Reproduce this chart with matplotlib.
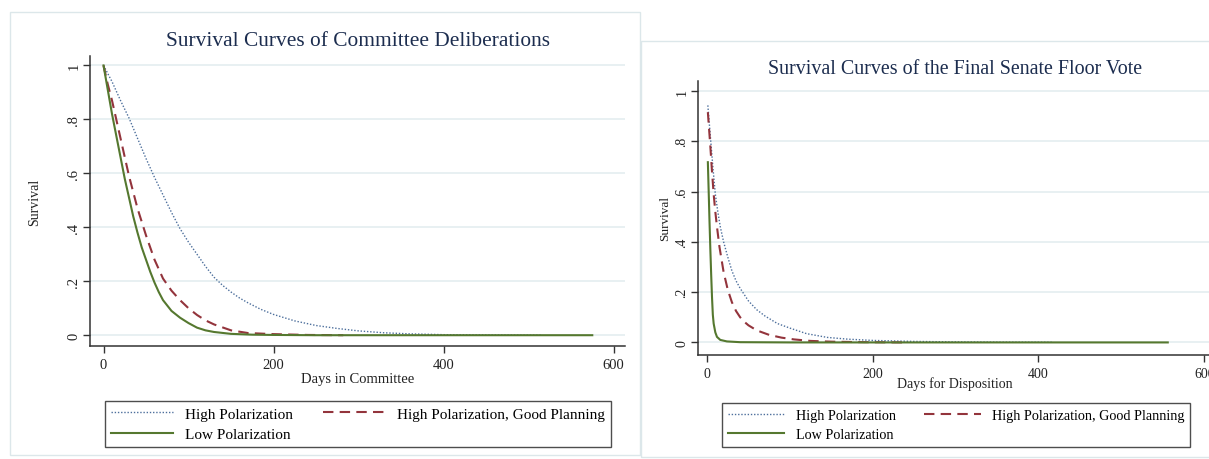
import matplotlib
matplotlib.use("Agg")
import matplotlib.pyplot as plt
from matplotlib.patches import Rectangle
from matplotlib.lines import Line2D

plt.rcParams['font.family'] = ['Liberation Serif', 'DejaVu Serif']

# Committee deliberations (left panel)
c_high_days = [0, 10, 20, 30, 40, 50, 60, 70, 80, 90, 100, 110, 120, 130, 140, 150, 160, 170,
               185, 200, 225, 250, 275, 300, 330, 360, 400, 450, 515]
c_high_surv = [1.0, 0.94, 0.87, 0.805, 0.73, 0.655, 0.585, 0.52, 0.455, 0.395, 0.345, 0.30,
               0.255, 0.215, 0.185, 0.16, 0.138, 0.12, 0.096, 0.077, 0.053, 0.036, 0.025,
               0.016, 0.009, 0.005, 0.002, 0.001, 0.0]
c_plan_days = [0, 5, 10, 15, 20, 25, 30, 40, 50, 60, 70, 80, 90, 100, 110, 120, 130, 150,
               170, 200, 240, 282]
c_plan_surv = [1.0, 0.93, 0.87, 0.80, 0.73, 0.66, 0.59, 0.47, 0.37, 0.28, 0.21, 0.165,
               0.13, 0.10, 0.075, 0.055, 0.04, 0.018, 0.008, 0.004, 0.001, 0.0]
c_low_days = [0, 5, 10, 15, 20, 25, 30, 35, 40, 45, 50, 55, 60, 65, 70, 80, 90, 100, 110,
              120, 130, 150, 175, 200, 250, 300, 400, 500, 575]
c_low_surv = [1.0, 0.91, 0.82, 0.74, 0.66, 0.58, 0.51, 0.44, 0.38, 0.325, 0.28, 0.235,
              0.195, 0.16, 0.13, 0.09, 0.065, 0.045, 0.028, 0.018, 0.012, 0.005, 0.002,
              0.001, 0.0, 0.0, 0.0, 0.0, 0.0]

# Final senate floor vote (right panel)
f_high_days = [1, 3, 5, 7, 10, 13, 16, 20, 25, 30, 35, 40, 45, 50, 60, 70, 85, 100, 120,
               145, 170, 200, 250, 300, 350, 416]
f_high_surv = [0.943, 0.86, 0.78, 0.70, 0.59, 0.52, 0.46, 0.40, 0.34, 0.285, 0.245, 0.215,
               0.19, 0.165, 0.13, 0.105, 0.075, 0.057, 0.035, 0.02, 0.013, 0.008, 0.004,
               0.002, 0.001, 0.0005]
f_plan_days = [1, 2, 4, 6, 8, 10, 12, 15, 20, 25, 30, 35, 40, 45, 50, 60, 75, 90, 105, 125,
               150, 190, 240]
f_plan_surv = [0.916, 0.87, 0.78, 0.68, 0.59, 0.52, 0.46, 0.38, 0.28, 0.21, 0.16, 0.125,
               0.10, 0.082, 0.068, 0.048, 0.03, 0.019, 0.012, 0.006, 0.003, 0.001, 0.0]
f_low_days = [1, 2, 3, 4, 5, 6, 7, 8, 10, 12, 16, 24, 40, 100, 556]
f_low_surv = [0.717, 0.60, 0.48, 0.37, 0.27, 0.18, 0.11, 0.075, 0.04, 0.022, 0.01, 0.004,
              0.001, 0.0, 0.0]

yticks = [0, 0.2, 0.4, 0.6, 0.8, 1]
ytick_labels = ['0', '.2', '.4', '.6', '.8', '1']
xticks = [0, 200, 400, 600]

labels = ['High Polarization', 'High Polarization, Good Planning', 'Low Polarization']
blue = '#4d6f9c'
red = '#93343c'
green = '#55782f'
grid_col = '#e4eef0'
title_col = '#1c2d4f'

W, H = 1209, 460
fig = plt.figure(figsize=(W / 100, H / 100), dpi=100)


def px(x0, y_top, x1, y_bot):
    return [x0 / W, 1 - y_bot / H, (x1 - x0) / W, (y_bot - y_top) / H]


# light frames around each graph
fig.patches.append(Rectangle((10 / W, 1 - 456 / H), 630 / W, 443 / H, transform=fig.transFigure,
                             fill=False, edgecolor='#dce7ea', lw=1))
fig.patches.append(Rectangle((641 / W, 1 - 458 / H), 580 / W, 416 / H, transform=fig.transFigure,
                             fill=False, edgecolor='#dce7ea', lw=1))


def panel(rect, xlim, ylim, high, plan, low, title, title_xy, title_size, xlabel, xlabel_y,
          ylabel_x, leg_xy, fs, leg_fs):
    ax = fig.add_axes(rect)
    ax.set_xlim(*xlim)
    ax.set_ylim(*ylim)
    for y in yticks:
        ax.axhline(y, color=grid_col, lw=1.2, zorder=0)
    ax.plot(high[0], high[1], color=blue, lw=1.0, linestyle=(0, (1, 1.3)))
    ax.plot(plan[0], plan[1], color=red, lw=1.5, linestyle=(0, (5, 3)))
    ax.plot(low[0], low[1], color=green, lw=1.5)
    ax.set_xticks(xticks)
    ax.set_yticks(yticks)
    ax.set_yticklabels(ytick_labels, rotation=90, va='center')
    ax.tick_params(direction='out', length=5, width=1, colors='#333333', labelsize=fs,
                   labelcolor='#222222', pad=4)
    ax.tick_params(axis='y', pad=2)
    for s in ['top', 'right']:
        ax.spines[s].set_visible(False)
    for s in ['left', 'bottom']:
        ax.spines[s].set_color('#333333')
        ax.spines[s].set_linewidth(1.1)
    fig.text(title_xy[0] / W, 1 - title_xy[1] / H, title, ha='center', va='center',
             fontsize=title_size, color=title_col)
    fig.text(title_xy[0] / W, 1 - xlabel_y / H, xlabel, ha='center', va='center',
             fontsize=fs, color='#222222')
    yl_y = (rect[1] + rect[3] / 2)
    fig.text(ylabel_x / W, yl_y, 'Survival', rotation=90, ha='center', va='center',
             fontsize=fs - 0.5, color='#222222')
    handles = [Line2D([], [], color=blue, lw=1.0, linestyle=(0, (1, 1.3))),
               Line2D([], [], color=green, lw=1.5),
               Line2D([], [], color=red, lw=1.5, linestyle=(0, (5, 3)))]
    leg = fig.legend(handles, [labels[0], labels[2], labels[1]], ncol=2, loc='center',
                     bbox_to_anchor=(leg_xy[0] / W, 1 - leg_xy[1] / H), fontsize=leg_fs,
                     frameon=True, fancybox=False, handlelength=4.0, handletextpad=0.8,
                     columnspacing=2.0, labelspacing=0.45, borderpad=0.4)
    leg.get_frame().set_edgecolor('#222222')
    leg.get_frame().set_linewidth(1.0)
    return ax


panel(px(90, 57, 625, 347), (-15.9, 613.5), (-0.04, 1.035),
      (c_high_days, c_high_surv), (c_plan_days, c_plan_surv), (c_low_days, c_low_surv),
      'Survival Curves of Committee Deliberations', (358, 42), 15.4,
      'Days in Committee', 380, 35, (358, 425), 10.5, 11)

panel(px(698, 82, 1215, 356), (-10.9, 613), (-0.05, 1.04),
      (f_high_days, f_high_surv), (f_plan_days, f_plan_surv), (f_low_days, f_low_surv),
      'Survival Curves of the Final Senate Floor Vote', (955, 70), 14.4,
      'Days for Disposition', 384, 665, (956, 426), 10, 10.2)

fig.savefig('out.png', dpi=100, facecolor='white')
